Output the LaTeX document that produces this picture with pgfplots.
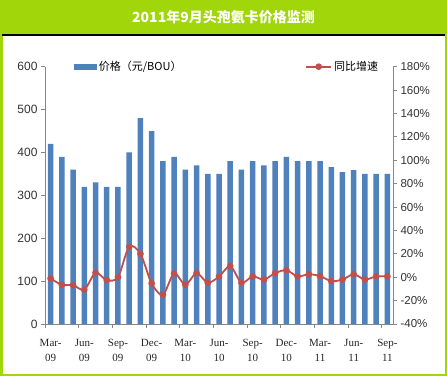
\documentclass[border=0pt]{standalone}
\usepackage{pgfplots}
\pgfplotsset{compat=1.18}
\usepackage{fontspec}
\setmainfont{Liberation Sans}
\newfontfamily\cjk{Noto Sans CJK SC}
\newfontfamily\serifx{Liberation Serif}
\definecolor{framegreen}{RGB}{160,214,10}
\definecolor{barblue}{RGB}{79,129,189}
\definecolor{linered}{RGB}{192,80,77}
\definecolor{axgray}{RGB}{134,134,134}
\pgfplotstableread{
x price growth
0 420 -1
1 390 -6.5
2 360 -6.7
3 320 -10.7
4 330 3.8
5 320 -2.5
6 320 0
7 400 26
8 480 20
9 450 -5.3
10 380 -15
11 390 3.2
12 360 -6.4
13 370 3.5
14 350 -4.7
15 350 0.5
16 380 9.5
17 360 -4.7
18 380 0.7
19 370 -2
20 380 3.5
21 390 6
22 380 0.7
23 380 2.5
24 380 1
25 366 -3.3
26 354 -2
27 359 2.5
28 350 -2
29 350 0.7
30 350 0.7
}\datatable
\begin{document}
\begin{tikzpicture}[x=1pt,y=1pt]
\fill[white] (0,0) rectangle (447,378);
\fill[framegreen] (0,343.3) rectangle (447,378);
\fill[framegreen] (0,2) rectangle (2.5,343.3);
\fill[framegreen] (444.5,2) rectangle (447,343.3);
\fill[framegreen] (0,2) rectangle (447,4.5);
\fill[black] (2,342) rectangle (444.5,343.5);
\node[white,font=\cjk\bfseries\fontsize{14}{14}\selectfont] at (223.5,361) {2011年9月头孢氨卡价格监测};
\begin{axis}[
  at={(45pt,54pt)}, anchor=south west, scale only axis,
  width=348pt, height=257.3pt,
  xmin=-0.5, xmax=30.5, ymin=0, ymax=600,
  axis y line*=left, axis x line*=bottom,
  axis line style={axgray, line width=0.8pt},
  tick align=outside,
  ytick={0,100,...,600},
  y tick style={axgray, line width=0.8pt},
  major tick length=4pt, minor tick length=4pt,
  xtick={0,3,...,30},
  xticklabels={{Mar-\\09},{Jun-\\09},{Sep-\\09},{Dec-\\09},{Mar-\\10},{Jun-\\10},{Sep-\\10},{Dec-\\10},{Mar-\\11},{Jun-\\11},{Sep-\\11}},
  major x tick style={draw=none},
  minor xtick={-0.5,2.5,...,29.5},
  minor x tick style={axgray, line width=0.8pt},
  x tick label style={align=center, font=\serifx\fontsize{11}{15}\selectfont, text=black!85, yshift=-8pt},
  y tick label style={font=\fontsize{12}{12}\selectfont, text=black!80},
  /pgf/number format/assume math mode=true,
  legend style={draw=none, fill=none, at={(0.083,1)}, anchor=west, inner sep=0pt, outer sep=0pt,
    font=\cjk\fontsize{11}{11}\selectfont},
]
\addplot[ybar, bar width=5.5pt, fill=barblue, draw=none,
  legend image code/.code={\fill[barblue] (0pt,-3pt) rectangle (23pt,3pt);}]
  table[x=x, y=price] {\datatable};
\addlegendentry{价格（元/BOU）}
\end{axis}
\begin{axis}[
  at={(45pt,54pt)}, anchor=south west, scale only axis,
  width=348pt, height=257.3pt,
  xmin=-0.5, xmax=30.5, ymin=-40, ymax=180,
  axis y line*=right, axis x line=none,
  axis line style={axgray, line width=0.8pt},
  tick align=outside,
  ytick={-40,-20,...,180},
  y tick style={axgray, line width=0.8pt},
  major tick length=4pt,
  yticklabel={\pgfmathprintnumber{\tick}\%},
  y tick label style={font=\fontsize{11.5}{12}\selectfont, text=black!80},
  /pgf/number format/assume math mode=true,
  legend style={draw=none, fill=none, at={(0.963,1)}, anchor=east, inner sep=0pt, outer sep=0pt,
    font=\cjk\fontsize{11}{11}\selectfont},
]
\addplot[linered, line width=1.8pt, smooth, mark=*, mark size=2.4pt, mark options={fill=linered, draw=linered},
  legend image code/.code={\draw[linered,line width=1.8pt] (0pt,0pt)--(25pt,0pt); \fill[linered] (12.5pt,0pt) circle (2.4pt);}]
  table[x=x, y=growth] {\datatable};
\addlegendentry{同比增速}
\end{axis}
\end{tikzpicture}
\end{document}
